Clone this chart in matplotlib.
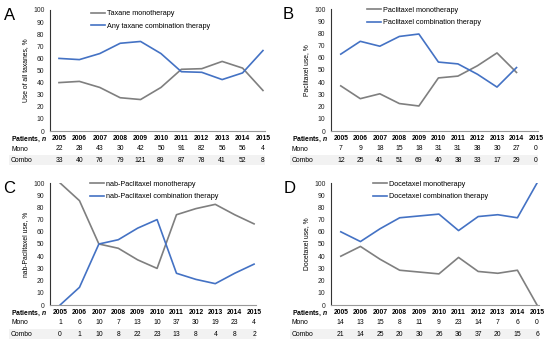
import matplotlib
matplotlib.use('Agg')
import matplotlib.pyplot as plt
from matplotlib.patches import Rectangle

plt.rcParams['font.family'] = ['Liberation Sans', 'DejaVu Sans']
plt.rcParams['mathtext.fontset'] = 'custom'
plt.rcParams['mathtext.bfit'] = 'Liberation Sans:italic:bold'

years = ['2005', '2006', '2007', '2008', '2009', '2010', '2011', '2012', '2013', '2014', '2015']

# panel A: all taxanes
a_mono = [40, 41, 36, 27.5, 26, 36, 51, 51.5, 57.5, 52, 33.5]
a_combo = [60, 59, 64, 72.5, 74, 64, 49, 48.5, 42.5, 48, 66.5]
a_n_mono = [22, 28, 43, 30, 42, 50, 91, 82, 56, 56, 4]
a_n_combo = [33, 40, 76, 79, 121, 89, 87, 78, 41, 52, 8]

# panel B: paclitaxel (no 2015 data)
b_mono = [37, 26.5, 30.5, 22.5, 20.5, 43.5, 45, 53.5, 64, 48]
b_combo = [63, 73.5, 69.5, 77.5, 79.5, 56.5, 55, 46.5, 36, 52]
b_n_mono = [7, 9, 18, 15, 18, 31, 31, 38, 30, 27, 0]
b_n_combo = [12, 25, 41, 51, 69, 40, 38, 33, 17, 29, 0]

# panel C: nab-paclitaxel
c_mono = [100, 85.5, 50, 46.5, 37, 30, 74, 79, 82.5, 74, 66.5]
c_combo = [0, 14.5, 50, 53.5, 63, 70, 26, 21, 17.5, 26, 33.5]
c_n_mono = [1, 6, 10, 7, 13, 10, 37, 30, 19, 23, 4]
c_n_combo = [0, 1, 10, 8, 22, 23, 13, 8, 4, 8, 2]

# panel D: docetaxel
d_mono = [40, 48, 37.5, 28.5, 27, 25.5, 39, 27.5, 26, 28.5, 0]
d_combo = [60, 52, 62.5, 71.5, 73, 74.5, 61, 72.5, 74, 71.5, 100]
d_n_mono = [14, 13, 15, 8, 11, 9, 23, 14, 7, 6, 0]
d_n_combo = [21, 14, 25, 20, 30, 26, 36, 37, 20, 15, 6]

W, H = 550, 341
GREY = '#7f7f7f'
BLUE = '#4472c4'
FS = 4.9

panels = [
    # letter, box(l, t, r, b), xlim, ylabel, names, data, label x, letter pos, legend pos
    ('A', (50, 10, 265, 131), (-0.44, 10.1), 'Use of all taxanes, %',
     ('Taxane monotherapy', 'Any taxane combination therapy'),
     a_mono, a_combo, a_n_mono, a_n_combo, 11, (4, 20), (41, 96)),
    ('B', (331, 9, 538, 131), (-0.5, 10.1), 'Paclitaxel use, %',
     ('Paclitaxel monotherapy', 'Paclitaxel combination therapy'),
     b_mono, b_combo, b_n_mono, b_n_combo, 292, (283, 19), (36, 98)),
    ('C', (50, 183, 256, 305), (-0.52, 10.1), 'nab-Paclitaxel use, %',
     ('nab-Paclitaxel monotherapy', 'nab-Paclitaxel combination therapy'),
     c_mono, c_combo, c_n_mono, c_n_combo, 11, (3, 193), (40, 98)),
    ('D', (331, 183, 539, 305), (-0.5, 10.1), 'Docetaxel use, %',
     ('Docetaxel monotherapy', 'Docetaxel combination therapy'),
     d_mono, d_combo, d_n_mono, d_n_combo, 292, (284, 193), (42, 98)),
]

fig = plt.figure(figsize=(W / 100, H / 100), dpi=100)

for (letter, box, xlim, ylabel, names, mono, combo, n_mono, n_combo,
     lab_x, let_xy, leg_xy) in panels:
    l, t, r, b = box
    ax = fig.add_axes([l / W, 1 - b / H, (r - l) / W, (b - t) / H])
    x = list(range(len(years)))
    ax.plot(x[:len(mono)], mono, c=GREY, lw=1.2, label=names[0])
    ax.plot(x[:len(combo)], combo, c=BLUE, lw=1.2, label=names[1])
    ax.set_xlim(*xlim)
    ax.set_ylim(0, 100)
    ax.set_yticks(range(0, 101, 10))
    ax.set_xticks([])
    ax.tick_params(axis='y', length=0, pad=4, labelsize=FS, labelcolor='#222222')
    for s in ['top', 'right']:
        ax.spines[s].set_visible(False)
    ax.spines['left'].set_color('#333333')
    ax.spines['bottom'].set_color('#999999')
    ax.spines['left'].set_linewidth(0.8)
    ax.spines['bottom'].set_linewidth(0.8)
    ax.set_ylabel(ylabel, fontsize=FS, labelpad=3)

    ax.legend(loc='upper left', bbox_to_anchor=(leg_xy[0] / (r - l), leg_xy[1] / 100 + 0.04),
              frameon=False, fontsize=FS + 0.3, handlelength=2.0, handletextpad=0.25,
              labelspacing=0.75, borderaxespad=0, borderpad=0)

    fig.text(let_xy[0] / W, 1 - let_xy[1] / H, letter, fontsize=12, ha='left', va='baseline')

    # table below each panel
    hpx = b - t
    rows = [(b + 8, None), (b + 18, n_mono), (b + 29, n_combo)]
    ax.add_patch(Rectangle(((lab_x - 2 - l) / (r - l) * (xlim[1] - xlim[0]) + xlim[0], -34 / hpx),
                           (r - lab_x + 2) / (r - l) * (xlim[1] - xlim[0]), 10 / hpx,
                           transform=ax.get_xaxis_transform(), facecolor='#f2f2f2',
                           edgecolor='none', clip_on=False, zorder=0))
    for i, (ypx, vals) in enumerate(rows):
        yf = 1 - ypx / H
        if vals is None:
            fig.text(lab_x / W, yf, r'Patients, $\mathbfit{n}$', fontsize=FS,
                     fontweight='bold', ha='left', va='center')
            for xi, yr in enumerate(years):
                ax.text(xi, -(ypx - b) / hpx, yr, fontsize=FS, fontweight='bold',
                        ha='center', va='center', transform=ax.get_xaxis_transform(),
                        clip_on=False)
        else:
            fig.text(lab_x / W, yf, 'Mono' if i == 1 else 'Combo', fontsize=FS,
                     ha='left', va='center')
            for xi, v in enumerate(vals):
                ax.text(xi, -(ypx - b) / hpx, str(v), fontsize=FS,
                        ha='center', va='center', transform=ax.get_xaxis_transform(),
                        clip_on=False)

fig.savefig('out.png', dpi=100)
